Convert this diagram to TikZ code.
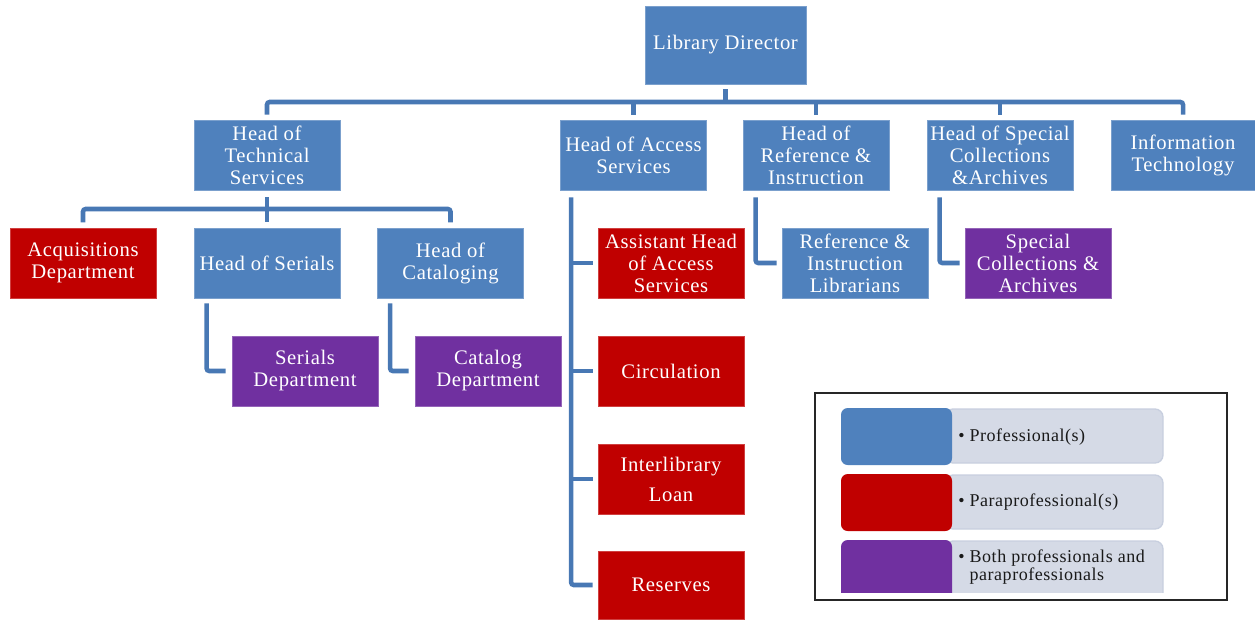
\documentclass[tikz,border=0pt]{standalone}
\usepackage{fontspec}
\setmainfont[LetterSpace=3]{Liberation Serif}
\usetikzlibrary{calc}
\definecolor{pblue}{HTML}{4F81BD}
\definecolor{pred}{HTML}{C00000}
\definecolor{ppurple}{HTML}{7030A0}
\definecolor{linkblue}{HTML}{4878B4}
\definecolor{lgray}{HTML}{D5DAE6}
\definecolor{lgrayedge}{HTML}{C8CFDF}
\tikzset{
  box/.style={minimum width=109.5pt, minimum height=52.5pt, inner sep=1pt,
    align=center, text=white, font=\fontsize{15.5}{16.5}\selectfont},
  prof/.style={box, fill=pblue, draw=pblue!75!white, line width=0.6pt},
  para/.style={box, fill=pred, draw=pred!75!white, line width=0.6pt},
  both/.style={box, fill=ppurple, draw=ppurple!75!white, line width=0.6pt},
  link/.style={draw=linkblue, line width=3.4pt, rounded corners=2pt},
  legtext/.style={anchor=west, align=left, inner sep=0pt, text=black!90,
    font=\fontsize{13.5}{13.5}\selectfont},
}
\begin{document}
\begin{tikzpicture}[x=0.75pt, y=-0.75pt]
\useasboundingbox (0,0) rectangle (1255,619);

% top level
\node[prof, minimum width=120.75pt, minimum height=58.5pt] (dir) at (725.5,45) {Library Director};

% heads of department
\node[prof] (tech) at (267,155) {Head of\\Technical\\Services};
\node[prof] (access) at (633.5,155) {Head of Access\\Services};
\node[prof] (ref) at (816,155) {Head of\\Reference \&\\Instruction};
\node[prof] (spec) at (1000,155) {Head of Special\\Collections\\\&Archives};
\node[prof, minimum width=108pt] (it) at (1183,155) {Information\\Technology};

% technical services
\node[para] (acq) at (83,263) {Acquisitions\\Department};
\node[prof] (serials) at (267,263) {Head of Serials};
\node[prof] (catal) at (450.5,263) {Head of\\Cataloging};
\node[both] (serdep) at (305,371) {Serials\\Department};
\node[both] (catdep) at (488,371) {Catalog\\Department};

% access services
\node[para] (asst) at (671,263) {Assistant Head\\of Access\\Services};
\node[para] (circ) at (671,371) {Circulation};
\node[para] (ill) at (671,479) {Interlibrary\\[6pt]Loan};
\node[para, minimum height=51pt] (res) at (671,585) {Reserves};

% reference and special collections
\node[prof] (reflib) at (855,263) {Reference \&\\Instruction\\Librarians};
\node[both] (specarch) at (1038,263) {Special\\Collections \&\\Archives};

% connectors
\coordinate (bus) at (0,102);
\coordinate (tbus) at (0,209);
\draw[link] ([yshift=-3.75pt]dir.south) -- (dir.south |- bus);
\draw[link] ([yshift=3.75pt]tech.north) -- (tech.north |- bus) -- (it.north |- bus) -- ([yshift=3.75pt]it.north);
\foreach \n in {access,ref,spec}
  \draw[link] (\n.north |- bus) -- ([yshift=3.75pt]\n.north);

\draw[link] ([yshift=-5pt]tech.south) -- ([yshift=4pt]serials.north);
\draw[link] ([yshift=4pt]acq.north) -- (acq.north |- tbus) -- (catal.north |- tbus) -- ([yshift=4pt]catal.north);

\draw[link] ($(serials.south west)+(13,5)$) |- ([xshift=-4.5pt]serdep.west);
\draw[link] ($(catal.south west)+(13,5)$) |- ([xshift=-4.5pt]catdep.west);

\coordinate (spine) at ($(access.south west)+(11,7)$);
\draw[link] (spine) |- ([xshift=-3.75pt]res.west);
\foreach \n in {asst,circ,ill}
  \draw[link] (spine |- \n.west) -- ([xshift=-3.75pt]\n.west);

\draw[link] ($(ref.south west)+(13,7)$) |- ([xshift=-3.75pt]reflib.west);
\draw[link] ($(spec.south west)+(13,7)$) |- ([xshift=-3.75pt]specarch.west);

% key
\fill[white] (815,393) rectangle (1227,600);
\begin{scope}
  \clip (815,393) rectangle (1227,592);
  \filldraw[fill=lgray, draw=lgrayedge, line width=1pt, rounded corners=6pt] (945,409) rectangle (1163,463);
  \filldraw[fill=lgray, draw=lgrayedge, line width=1pt, rounded corners=6pt] (945,475) rectangle (1163,529);
  \filldraw[fill=lgray, draw=lgrayedge, line width=1pt, rounded corners=6pt] (945,541) rectangle (1163,610);
  \fill[pblue, rounded corners=5pt] (841,408) rectangle (952,465);
  \fill[pred, rounded corners=5pt] (841,474) rectangle (952,531);
  \fill[ppurple, rounded corners=5pt] (841,540) rectangle (952,610);
\end{scope}
\node[legtext] (k1) at (958,437) {\textbullet\ Professional(s)};
\node[legtext] (k2) at (958,502) {\textbullet\ Paraprofessional(s)};
\node[legtext] (k3) at (958,567) {\textbullet\ Both professionals and\\\hphantom{\textbullet\ }paraprofessionals};
\draw[line width=1.5pt, black!85] (815,393) rectangle (1227,600);
\end{tikzpicture}
\end{document}
